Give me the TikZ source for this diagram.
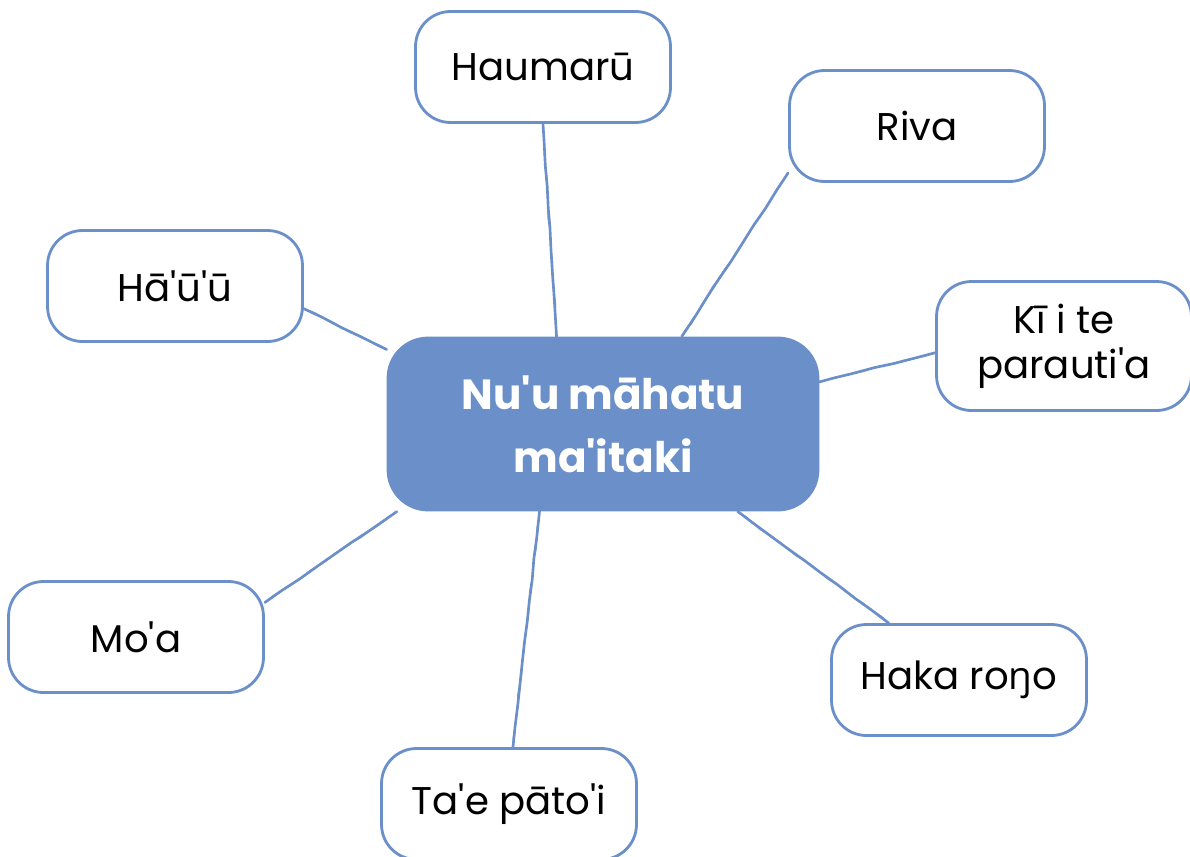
\documentclass[tikz,border=0pt]{standalone}
\usepackage{fontspec}
\setmainfont{Poppins}[Ligatures=TeXOff]
\newfontfamily\engfont{Open Sans}[Ligatures=TeXOff]
\usetikzlibrary{decorations.pathmorphing}

\definecolor{mapblue}{RGB}{107,143,201}

\begin{document}
\begin{tikzpicture}[
  x=0.02cm,y=-0.02cm,
  topic/.style={draw=mapblue, line width=1.6pt, fill=mapblue, rounded corners=0.8cm, minimum width=8.6cm, minimum height=3.44cm, align=center, text=white, font=\fontsize{24}{36}\selectfont\bfseries},
  leaf/.style={draw=mapblue, line width=1.6pt, fill=white, rounded corners=0.7cm, minimum width=5.1cm, minimum height=2.22cm, align=center, font=\fontsize{22}{25.5}\selectfont},
  link/.style={draw=mapblue, line width=1.5pt, line cap=round,
    decorate, decoration={random steps, segment length=12pt, amplitude=0.25pt},
    preaction={draw=mapblue!80, line width=0.8pt, decorate, decoration={random steps, segment length=6pt, amplitude=0.6pt}}}
]
\useasboundingbox (0,0) rectangle (1190,856);

% centre
\node[topic] (topic) at (603,424) {Nu'u māhatu\\ma'itaki};

% leaves
\node[leaf] (haumaru) at (543,67) {Haumarū};
\node[leaf] (riva) at (917,126) {Riva};
\node[leaf, minimum height=2.58cm] (kii) at (1064,346) {Kī i te\\parauti'a};
\node[leaf] (haka) at (959,680) {Haka ro{\engfont ŋ}o};
\node[leaf] (tae) at (509,804) {Ta'e pāto'i};
\node[leaf] (moa) at (136,637) {Mo'a};
\node[leaf] (hauu) at (175,286) {Hā'ū'ū};

% links
\draw[link] (haumaru.south) -- (topic.118);
\draw[link] (riva.200) -- (topic.48);
\draw[link] (kii.183) -- (topic.11);
\draw[link] (haka.141) -- (topic.327);
\draw[link] (tae.86) -- (topic.234);
\draw[link] (moa.15) -- (topic.203);
\draw[link] (hauu.350) -- (topic.161);

\end{tikzpicture}
\end{document}
